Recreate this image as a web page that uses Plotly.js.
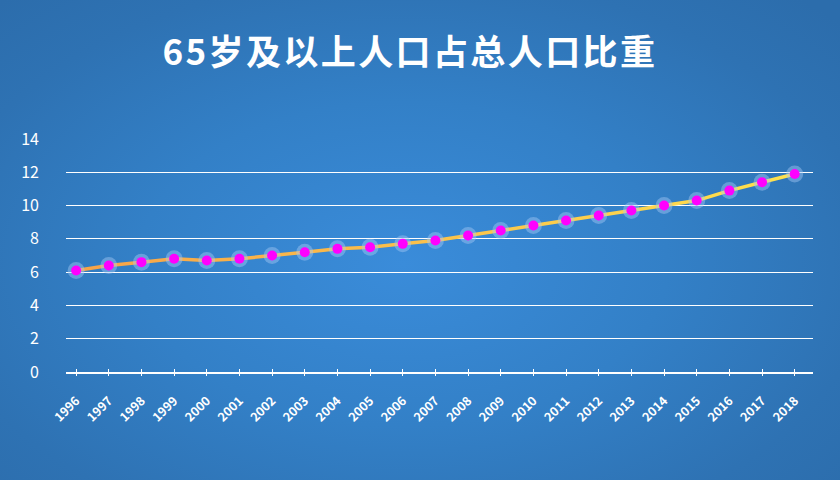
<!DOCTYPE html>
<html>
<head>
<meta charset="utf-8">
<script src="https://cdn.plot.ly/plotly-3.0.1.min.js"></script>
<style>
  html, body { margin: 0; padding: 0; }
  body {
    width: 840px; height: 480px; overflow: hidden;
    background: radial-gradient(ellipse 70% 75% at 48% 55%, #3a8cda 0%, #3380c7 45%, #2e72b3 80%, #2c6dac 100%);
  }
  #chart { width: 840px; height: 480px; }
  .gtitle { letter-spacing: 2.4px; }
</style>
</head>
<body>
<div id="chart"></div>
<script>
// Data
const years = [1996, 1997, 1998, 1999, 2000, 2001, 2002, 2003, 2004, 2005, 2006, 2007,
               2008, 2009, 2010, 2011, 2012, 2013, 2014, 2015, 2016, 2017, 2018];
const share = [6.1, 6.4, 6.6, 6.8, 6.7, 6.8, 7.0, 7.2, 7.4, 7.5, 7.7, 7.9,
               8.2, 8.5, 8.8, 9.1, 9.4, 9.7, 10.0, 10.3, 10.9, 11.4, 11.9];
const yTicks = [0, 2, 4, 6, 8, 10, 12, 14];
const titleText = '65岁及以上人口占总人口比重';

const startC = [247, 163, 72];
const endC = [255, 226, 78];
function mix(t) {
  const c = startC.map((s, k) => Math.round(s + (endC[k] - s) * t));
  return 'rgb(' + c.join(',') + ')';
}

const traces = [];
const n = years.length;
for (let i = 0; i < n - 1; i++) {
  traces.push({
    x: [years[i], years[i + 1]],
    y: [share[i], share[i + 1]],
    type: 'scatter', mode: 'lines',
    line: { color: mix((i + 0.5) / (n - 1)), width: 3.5 },
    hoverinfo: 'skip', showlegend: false
  });
}
traces.push({
  x: years, y: share, type: 'scatter', mode: 'markers',
  marker: { size: 17, color: 'rgba(165,200,245,0.45)' },
  hoverinfo: 'skip', showlegend: false
});
traces.push({
  x: years, y: share, type: 'scatter', mode: 'markers',
  marker: { size: 10, color: '#ff00ff' },
  showlegend: false
});
// secondary x axis for outside half of the crossing ticks
traces.push({
  x: years, y: share, type: 'scatter', mode: 'none', xaxis: 'x2',
  hoverinfo: 'skip', showlegend: false
});

const xr = [1995.69, 2018.56];
const layout = {
  width: 840, height: 480,
  paper_bgcolor: 'rgba(0,0,0,0)', plot_bgcolor: 'rgba(0,0,0,0)',
  margin: { l: 66, r: 27, t: 139, b: 108 },
  title: {
    text: '<b>' + titleText + '</b>',
    font: { family: 'Noto Sans CJK SC', size: 35, color: '#ffffff' },
    x: 0.488, xanchor: 'center', y: 0.89, yanchor: 'middle'
  },
  xaxis: {
    range: xr, tickvals: years, ticktext: years.map(String),
    tickangle: -45, ticks: 'inside', ticklen: 3, tickcolor: '#ffffff', tickwidth: 1,
    ticklabelstandoff: 15,
    showline: true, linecolor: '#ffffff', linewidth: 1.5,
    showgrid: false, zeroline: false,
    tickfont: { family: 'Noto Sans CJK SC', size: 12.5, color: '#ffffff', weight: 'bold' },
    fixedrange: true
  },
  xaxis2: {
    overlaying: 'x', anchor: 'y', side: 'bottom', matches: 'x',
    range: xr, tickvals: years, showticklabels: false,
    ticks: 'outside', ticklen: 3, tickcolor: '#ffffff', tickwidth: 1,
    showline: false, showgrid: false, zeroline: false
  },
  yaxis: {
    range: [0, 14], tickvals: yTicks, ticktext: yTicks.map(String),
    showgrid: true, gridcolor: '#ffffff', gridwidth: 1,
    zeroline: false, showline: false, ticks: '',
    ticklabelstandoff: 26,
    tickfont: { family: 'Noto Sans CJK SC', size: 16, color: '#ffffff' },
    fixedrange: true
  }
};

Plotly.newPlot('chart', traces, layout, { displayModeBar: false, staticPlot: true });
</script>
</body>
</html>
